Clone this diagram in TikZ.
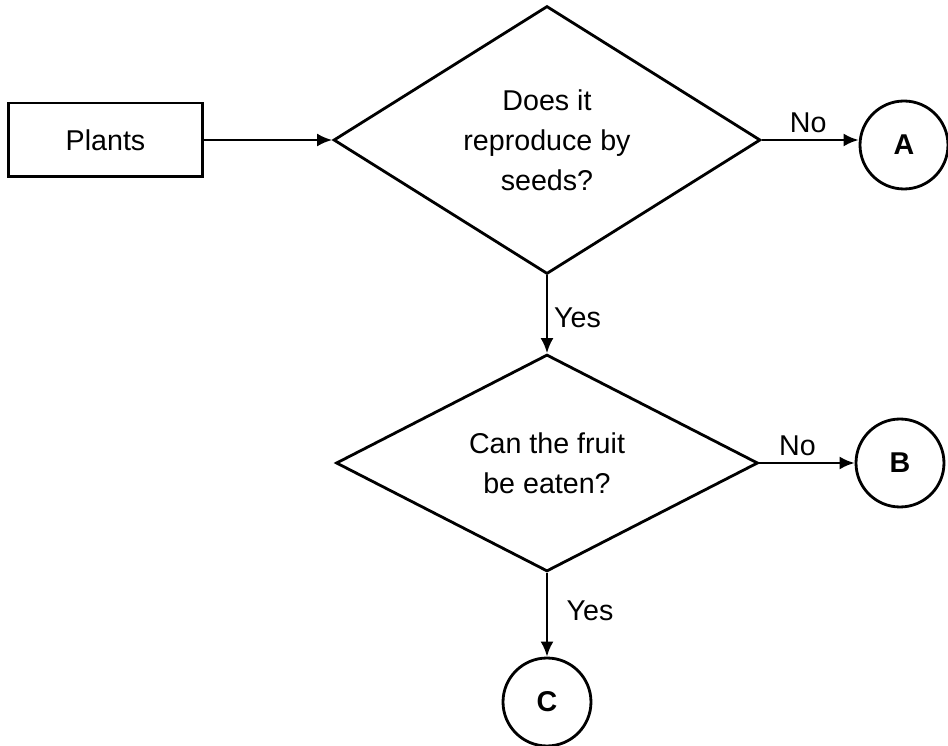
\documentclass[tikz,border=0pt]{standalone}
\usepackage{fontspec}
\setmainfont{Liberation Sans}
\usetikzlibrary{shapes.geometric,arrows.meta}

\tikzset{
  box/.style={draw,line width=1.7pt,minimum width=3.9cm,minimum height=1.48cm,inner sep=0pt},
  decision/.style={draw,diamond,line width=1.6pt,inner sep=0pt,align=center},
  endpoint/.style={draw,circle,line width=1.6pt,minimum size=1.76cm,inner sep=0pt,font=\fontsize{16.3}{20}\selectfont\bfseries},
  answer/.style={font=\fontsize{16.3}{20}\selectfont}
}

\begin{document}
\begin{tikzpicture}[x=0.02cm,y=-0.02cm,>={Latex[length=0.3cm,width=0.26cm]},font=\fontsize{16.3}{22.7}\selectfont]
\useasboundingbox (0,0) rectangle (948,746);

\node[box] (plants) at (105.5,140) {Plants};
\node[decision,minimum width=8.54cm,minimum height=5.26cm] (seeds) at (547,140) {Does it\\reproduce by\\seeds?};
\node[decision,minimum width=8.44cm,minimum height=4cm] (fruit) at (547,463) {Can the fruit\\be eaten?};

\node[endpoint] (a) at (904,145) {A};
\node[endpoint] (b) at (900,463) {B};
\node[endpoint] (c) at (547,702) {C};

\draw[->,line width=1.4pt] (plants) -- (seeds);
\draw[->,line width=1.4pt] (seeds.east) -- node[answer,above,pos=0.48] {No} (seeds.east -| a.west);
\draw[->,line width=1.4pt] (seeds.south) -- node[answer,right,pos=0.55] {Yes} (fruit.north);
\draw[->,line width=1.4pt] (fruit.east) -- node[answer,above,pos=0.4] {No} (b.west);
\draw[->,line width=1.4pt] (fruit.south) -- node[answer,right,pos=0.45,xshift=0.25cm] {Yes} (c.north);
\end{tikzpicture}
\end{document}
